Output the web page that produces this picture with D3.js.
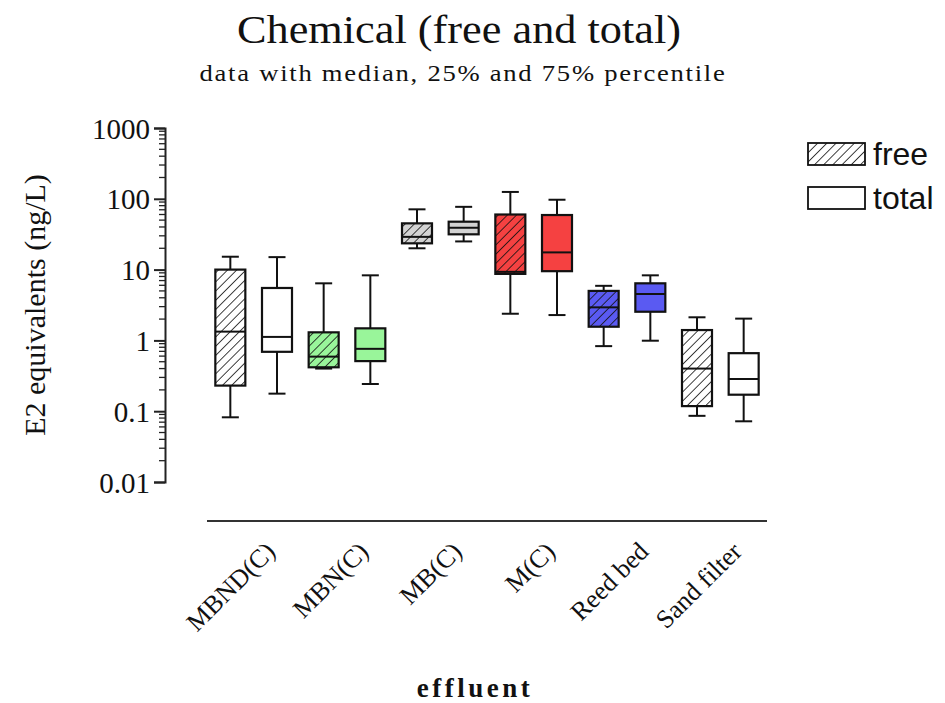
<!DOCTYPE html>
<html>
<head>
<meta charset="utf-8">
<script src="https://cdn.jsdelivr.net/npm/d3@7"></script>
<style>
  body { margin: 0; background: #fff; }
  svg { display: block; }
  .serif { font-family: "Liberation Serif", "DejaVu Serif", serif; fill: #111; }
</style>
</head>
<body>
<svg id="chart" width="945" height="703"></svg>
<script>
// categories along the x axis
var categories = ['MBND(C)', 'MBN(C)', 'MB(C)', 'M(C)', 'Reed bed', 'Sand filter'];
var series = ['free', 'total'];
var groupColors = ['#ffffff', '#99f59a', '#d3d3d3', '#f54141', '#5a5af2', '#ffffff'];

// [min, q1, median, q3, max] per category
var freeStats = [
  [0.082, 0.23, 1.33, 10, 15.2],
  [0.40, 0.417, 0.59, 1.30, 6.4],
  [20, 23.5, 29, 45, 71],
  [2.38, 8.7, 9.3, 60, 125],
  [0.83, 1.56, 2.93, 5.0, 5.9],
  [0.086, 0.118, 0.40, 1.40, 2.12]
];
var totalStats = [
  [0.177, 0.69, 1.12, 5.5, 15],
  [0.242, 0.51, 0.76, 1.48, 8.3],
  [25, 31.5, 39, 47.5, 77],
  [2.28, 9.5, 17.5, 59, 97],
  [0.99, 2.54, 4.52, 6.4, 8.3],
  [0.072, 0.171, 0.285, 0.66, 2.03]
];
var yTicks = [0.01, 0.1, 1, 10, 100, 1000];

var svg = d3.select('#chart');

var y = d3.scaleLog().domain([0.01, 1000]).range([482, 128]);
var x = d3.scaleBand().domain(categories).range([207, 767]);
var xSub = d3.scalePoint().domain(series).range([0, x.bandwidth()]).padding(0.5);
var boxWidth = 30;
var capWidth = 17;

// hatch patterns, one per group colour
var defs = svg.append('defs');
groupColors.forEach(function (c, i) {
  var p = defs.append('pattern')
    .attr('id', 'hatch' + i)
    .attr('patternUnits', 'userSpaceOnUse')
    .attr('width', 6.5).attr('height', 6.5)
    .attr('patternTransform', 'rotate(45)');
  p.append('rect').attr('width', 6.5).attr('height', 6.5).attr('fill', c);
  p.append('line').attr('x1', 0).attr('y1', 0).attr('x2', 0).attr('y2', 6.5)
    .attr('stroke', '#111').attr('stroke-width', 1.6);
});

// title
svg.append('text').attr('class', 'serif')
  .attr('x', 459).attr('y', 43).attr('text-anchor', 'middle')
  .attr('font-size', 41).attr('textLength', 444).attr('lengthAdjust', 'spacingAndGlyphs')
  .text('Chemical (free and total)');
svg.append('text').attr('class', 'serif')
  .attr('x', 463).attr('y', 81).attr('text-anchor', 'middle')
  .attr('font-size', 23).attr('textLength', 527).attr('lengthAdjust', 'spacingAndGlyphs')
  .attr('letter-spacing', 1.5)
  .text('data with median, 25% and 75% percentile');

// y axis
var yAxisG = svg.append('g').attr('transform', 'translate(165,0)');
var minor = [];
for (var e = -2; e < 3; e++) {
  for (var m = 2; m < 10; m++) minor.push(m * Math.pow(10, e));
}
yAxisG.selectAll('.minor').data(minor).enter().append('line')
  .attr('class', 'minor')
  .attr('x1', -6).attr('x2', 0)
  .attr('y1', function (d) { return y(d); })
  .attr('y2', function (d) { return y(d); })
  .attr('stroke', '#222').attr('stroke-width', 1.3);
yAxisG.call(d3.axisLeft(y).tickValues(yTicks).tickSize(11).tickPadding(4)
  .tickFormat(function (d) { return d >= 1 ? d3.format('d')(d) : String(d); }));
yAxisG.select('.domain').attr('stroke', '#222').attr('stroke-width', 2);
yAxisG.selectAll('.tick line').attr('stroke', '#222').attr('stroke-width', 2);
yAxisG.selectAll('.tick text')
  .attr('font-family', '"Liberation Serif", "DejaVu Serif", serif')
  .attr('font-size', 29).attr('fill', '#111').attr('dy', '0.35em');

svg.append('text').attr('class', 'serif')
  .attr('transform', 'translate(45,305) rotate(-90)')
  .attr('text-anchor', 'middle').attr('font-size', 30)
  .text('E2 equivalents (ng/L)');

// x axis (detached line with rotated labels)
svg.append('line')
  .attr('x1', x.range()[0]).attr('x2', x.range()[1])
  .attr('y1', 521).attr('y2', 521)
  .attr('stroke', '#333').attr('stroke-width', 2);
svg.selectAll('.xlab').data(categories).enter().append('text')
  .attr('class', 'serif xlab')
  .attr('text-anchor', 'end').attr('font-size', 26)
  .attr('transform', function (d) {
    return 'translate(' + (x(d) + x.bandwidth() / 2 + 23) + ',553) rotate(-45)';
  })
  .text(function (d) { return d; });

svg.append('text').attr('class', 'serif')
  .attr('x', 475).attr('y', 697).attr('text-anchor', 'middle')
  .attr('font-size', 27).attr('font-weight', 'bold').attr('letter-spacing', 3.5)
  .text('effluent');

// boxes
function drawBoxes(stats, key) {
  var g = svg.selectAll('.box-' + key).data(stats).enter().append('g')
    .attr('class', 'box-' + key)
    .attr('transform', function (d, i) {
      return 'translate(' + (x(categories[i]) + xSub(key)) + ',0)';
    });
  g.append('line')
    .attr('x1', 0).attr('x2', 0)
    .attr('y1', function (d) { return y(d[0]); })
    .attr('y2', function (d) { return y(d[4]); })
    .attr('stroke', '#111').attr('stroke-width', 2);
  g.selectAll('.cap').data(function (d) { return [d[0], d[4]]; }).enter().append('line')
    .attr('x1', -capWidth / 2).attr('x2', capWidth / 2)
    .attr('y1', function (v) { return y(v); })
    .attr('y2', function (v) { return y(v); })
    .attr('stroke', '#111').attr('stroke-width', 2);
  g.append('rect')
    .attr('x', -boxWidth / 2).attr('width', boxWidth)
    .attr('y', function (d) { return y(d[3]); })
    .attr('height', function (d) { return y(d[1]) - y(d[3]); })
    .attr('fill', function (d, i) {
      return key === 'free' ? 'url(#hatch' + i + ')' : groupColors[i];
    })
    .attr('stroke', '#111').attr('stroke-width', 2.2);
  g.append('line')
    .attr('x1', -boxWidth / 2).attr('x2', boxWidth / 2)
    .attr('y1', function (d) { return y(d[2]); })
    .attr('y2', function (d) { return y(d[2]); })
    .attr('stroke', '#111').attr('stroke-width', 2);
}
drawBoxes(freeStats, 'free');
drawBoxes(totalStats, 'total');

// legend
var legend = svg.append('g').attr('transform', 'translate(808,143)');
series.forEach(function (s, i) {
  legend.append('rect')
    .attr('x', 0).attr('y', i * 44).attr('width', 57).attr('height', 22)
    .attr('fill', i === 0 ? 'url(#hatch0)' : '#fff')
    .attr('stroke', '#111').attr('stroke-width', 1.8);
  legend.append('text')
    .attr('x', 65).attr('y', i * 44 + 22)
    .attr('font-family', '"Liberation Sans", Arial, sans-serif')
    .attr('font-size', 32).attr('fill', '#111')
    .text(s);
});
</script>
</body>
</html>
